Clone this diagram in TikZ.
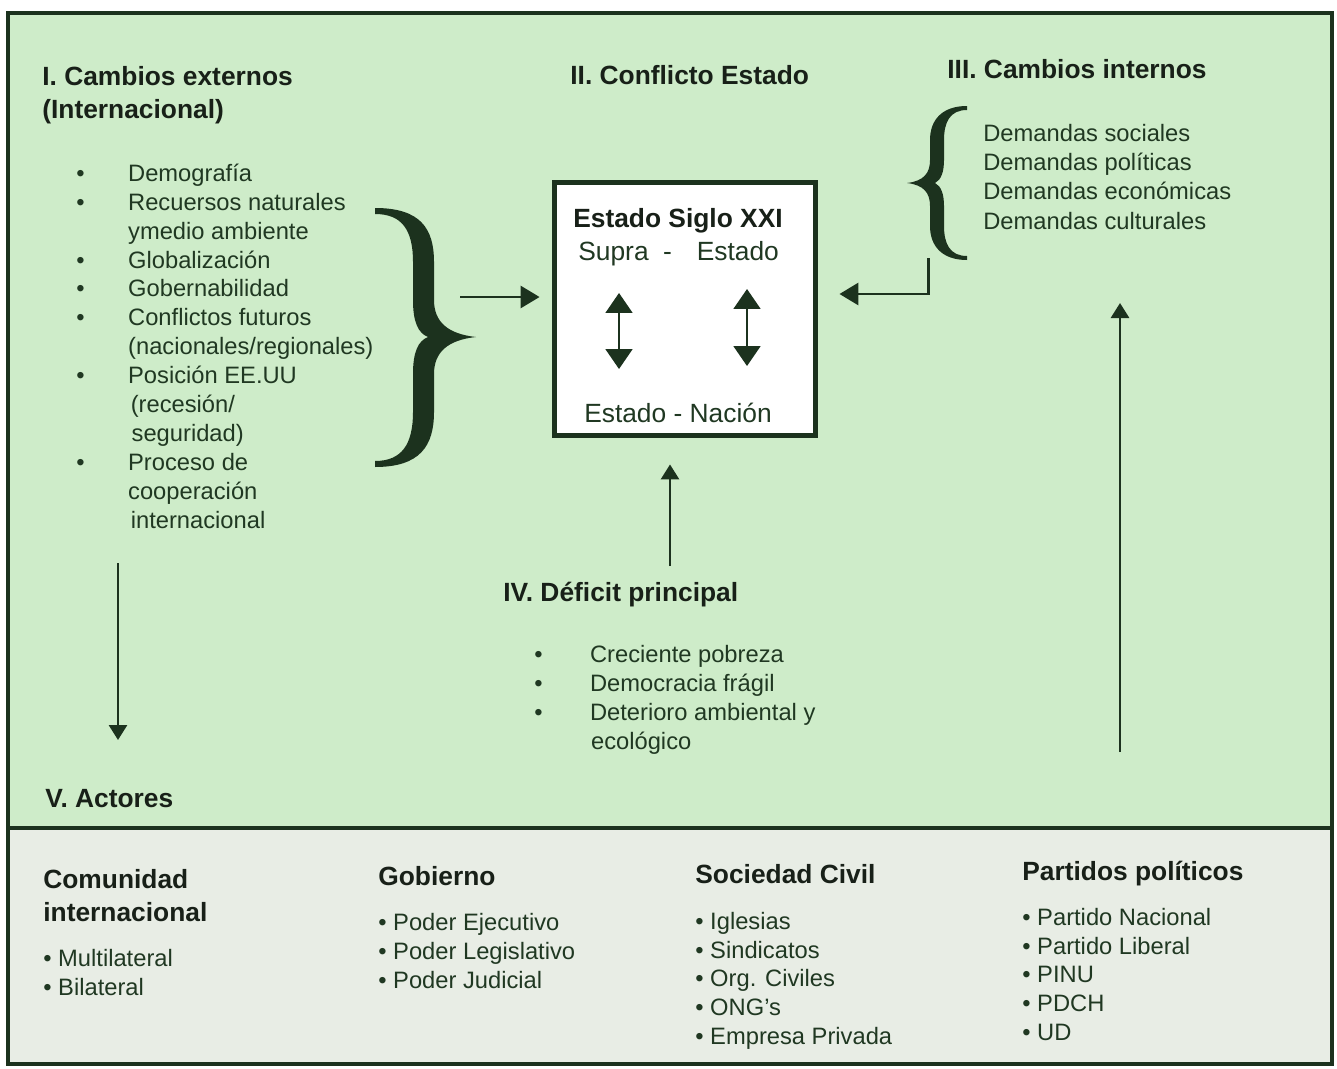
\documentclass[tikz,border=0pt]{standalone}
\usepackage{fontspec}
\setmainfont{Liberation Sans}
\usetikzlibrary{arrows.meta,calc}
\definecolor{PanelClr}{RGB}{206,236,201}
\definecolor{ActorClr}{RGB}{232,237,229}
\definecolor{TextClr}{RGB}{32,56,34}
\definecolor{HeadClr}{RGB}{24,32,24}
\definecolor{LineClr}{RGB}{28,50,30}

\newcommand{\ItemFont}{\fontsize{13.5}{16.3}\selectfont}
\newcommand{\HeadFont}{\fontsize{15}{18.7}\selectfont\bfseries}
\newcommand{\BoxFont}{\fontsize{15}{18}\selectfont}
\newcommand{\Bul}[1][29.5pt]{\makebox[#1][l]{\textbullet}}
\newcommand{\Skip}[1][29.5pt]{\hspace*{#1}}

% multi-line nodes sit on the baseline of their last line
\tikzset{
  head/.style={anchor=base west,inner sep=0pt,align=left,text=HeadClr,font=\HeadFont},
  items/.style={anchor=base west,inner sep=0pt,align=left,text=TextClr,font=\ItemFont},
  boxtext/.style={anchor=base,inner sep=0pt,text=TextClr,font=\BoxFont},
  arr/.style={draw=LineClr,line width=1.7pt,-{Triangle[length=0.38cm,width=0.44cm]}},
  arrthin/.style={draw=LineClr,line width=1.6pt,-{Triangle[length=0.3cm,width=0.36cm]}},
  dblarr/.style={draw=LineClr,line width=1.1pt,{Triangle[length=0.4cm,width=0.54cm]}-{Triangle[length=0.4cm,width=0.54cm]}},
  bracefill/.style={fill=LineClr,draw=none},
  statebox/.style={draw=LineClr,line width=2.8pt,fill=white,minimum width=5.22cm,minimum height=5.06cm,inner sep=0pt}
}

\begin{document}
\begin{tikzpicture}[x=0.02cm,y=-0.02cm]
\useasboundingbox (0,0) rectangle (1337,1068);

% Panels.
\fill[PanelClr] (8,13) rectangle (1332,828);
\fill[ActorClr] (8,828) rectangle (1332,1064);
\draw[LineClr,line width=2.2pt] (8,13) rectangle (1332,1064);
\draw[LineClr,line width=2pt] (8,828) -- (1332,828);

% I. External changes.
\node[head] (extTitle) at (42,118) {I. Cambios externos\\(Internacional)};
\node[items,font=\fontsize{13.5}{16.44}\selectfont] (extList) at (76,528) {\Bul Demografía\\
  \Bul Recuersos naturales\\ \Skip ymedio ambiente\\
  \Bul Globalización\\ \Bul Gobernabilidad\\
  \Bul Conflictos futuros\\ \Skip (nacionales/regionales)\\
  \Bul Posición EE.UU\\ \Skip[31pt](recesión/\\ \Skip[31.5pt]seguridad)\\
  \Bul Proceso de\\ \Skip cooperación\\ \Skip[31pt]internacional};

\fill[bracefill] (375,208) .. controls (420,208) and (434,228) .. (434,262)
  -- (434,300) .. controls (434,322) and (448,334) .. (476,337)
  .. controls (448,340) and (434,352) .. (434,374)
  -- (434,412) .. controls (434,446) and (420,467) .. (375,467)
  -- (375,461) .. controls (402,461) and (413,444) .. (413,412)
  -- (413,374) .. controls (413,352) and (418,341) .. (428,337)
  .. controls (418,333) and (413,322) .. (413,300)
  -- (413,262) .. controls (413,230) and (402,214) .. (375,214) -- cycle;

% II. State.
\node[head] (confTitle) at (570,85) {II. Conflicto Estado};
\node[statebox] (estado) at (685,309) {};
\node[boxtext,font=\BoxFont\bfseries,text=HeadClr] (siglo) at (678,227) {Estado Siglo XXI};
\node[boxtext,anchor=base west] (supra) at (578,260) {Supra\hspace{8.2pt}-\hspace{14.2pt}Estado};
\node[boxtext] (nacion) at (678,422) {Estado - Nación};
\coordinate (lTop) at (619,293);
\coordinate (lBot) at (619,369);
\coordinate (rTop) at (747,289);
\coordinate (rBot) at (747,366);
\draw[dblarr] (lTop) -- (lBot);
\draw[dblarr] (rTop) -- (rBot);

% III. Internal changes.
\node[head] (intTitle) at (947,78) {III. Cambios internos};
\node[items,font=\fontsize{13.5}{16.6}\selectfont] (intList) at (983,229) {Demandas sociales\\Demandas políticas\\Demandas económicas\\Demandas culturales};

\fill[bracefill] (967,106) .. controls (942,106) and (930,120) .. (930,140)
  -- (930,160) .. controls (930,173) and (924,181) .. (907,183)
  .. controls (924,185) and (930,193) .. (930,206)
  -- (930,226) .. controls (930,246) and (942,260) .. (967,260)
  -- (967,256) .. controls (950,256) and (944,244) .. (944,226)
  -- (944,206) .. controls (944,194) and (941,186) .. (935,183)
  .. controls (941,180) and (944,172) .. (944,160)
  -- (944,140) .. controls (944,122) and (950,110) .. (967,110) -- cycle;

% IV. Main deficit.
\node[head] (deficit) at (503,601) {IV. Déficit principal};
\node[items,font=\fontsize{13.5}{16.44}\selectfont] (defList) at (534,749) {\Bul[31.7pt]Creciente pobreza\\
  \Bul[31.7pt]Democracia frágil\\ \Bul[31.7pt]Deterioro ambiental y\\ \Skip[32.3pt]ecológico};

% V. Actors.
\node[head] (actores) at (45,807) {V. Actores};
\node[head] (comunidad) at (43,921) {Comunidad\\internacional};
\node[items] (comList) at (43,995) {\textbullet\ Multilateral\\\textbullet\ Bilateral};
\node[head] (gobierno) at (378,885) {Gobierno};
\node[items] (gobList) at (378,988) {\textbullet\ Poder Ejecutivo\\\textbullet\ Poder Legislativo\\\textbullet\ Poder Judicial};
\node[head] (sociedad) at (695,883) {Sociedad Civil};
\node[items] (socList) at (695,1044) {\textbullet\ Iglesias\\\textbullet\ Sindicatos\\\textbullet\ Org. Civiles\\\textbullet\ ONG’s\\\textbullet\ Empresa Privada};
\node[head] (partidos) at (1022,880) {Partidos políticos};
\node[items] (parList) at (1022,1040) {\textbullet\ Partido Nacional\\\textbullet\ Partido Liberal\\\textbullet\ PINU\\\textbullet\ PDCH\\\textbullet\ UD};

% Connectors.
\coordinate (braceOut) at (460,297);
\coordinate (intOut) at (928,258);
\coordinate (intCorner) at (928,294);
\coordinate (defOut) at (670,566);
\coordinate (riseBot) at (1120,752);
\coordinate (riseTop) at (1120,303);
\coordinate (dropTop) at (118,563);
\coordinate (dropBot) at (118,740);
\draw[arr,shorten >=0.25cm] (braceOut) -- (estado.west |- braceOut);
\draw[arr,shorten >=0.43cm] (intOut) -- (intCorner) -- (estado.east |- intCorner);
\draw[arrthin,shorten >=0.53cm] (defOut) -- (estado.south -| defOut);
\draw[arrthin] (riseBot) -- (riseTop);
\draw[arrthin] (dropTop) -- (dropBot);

\end{tikzpicture}
\end{document}
